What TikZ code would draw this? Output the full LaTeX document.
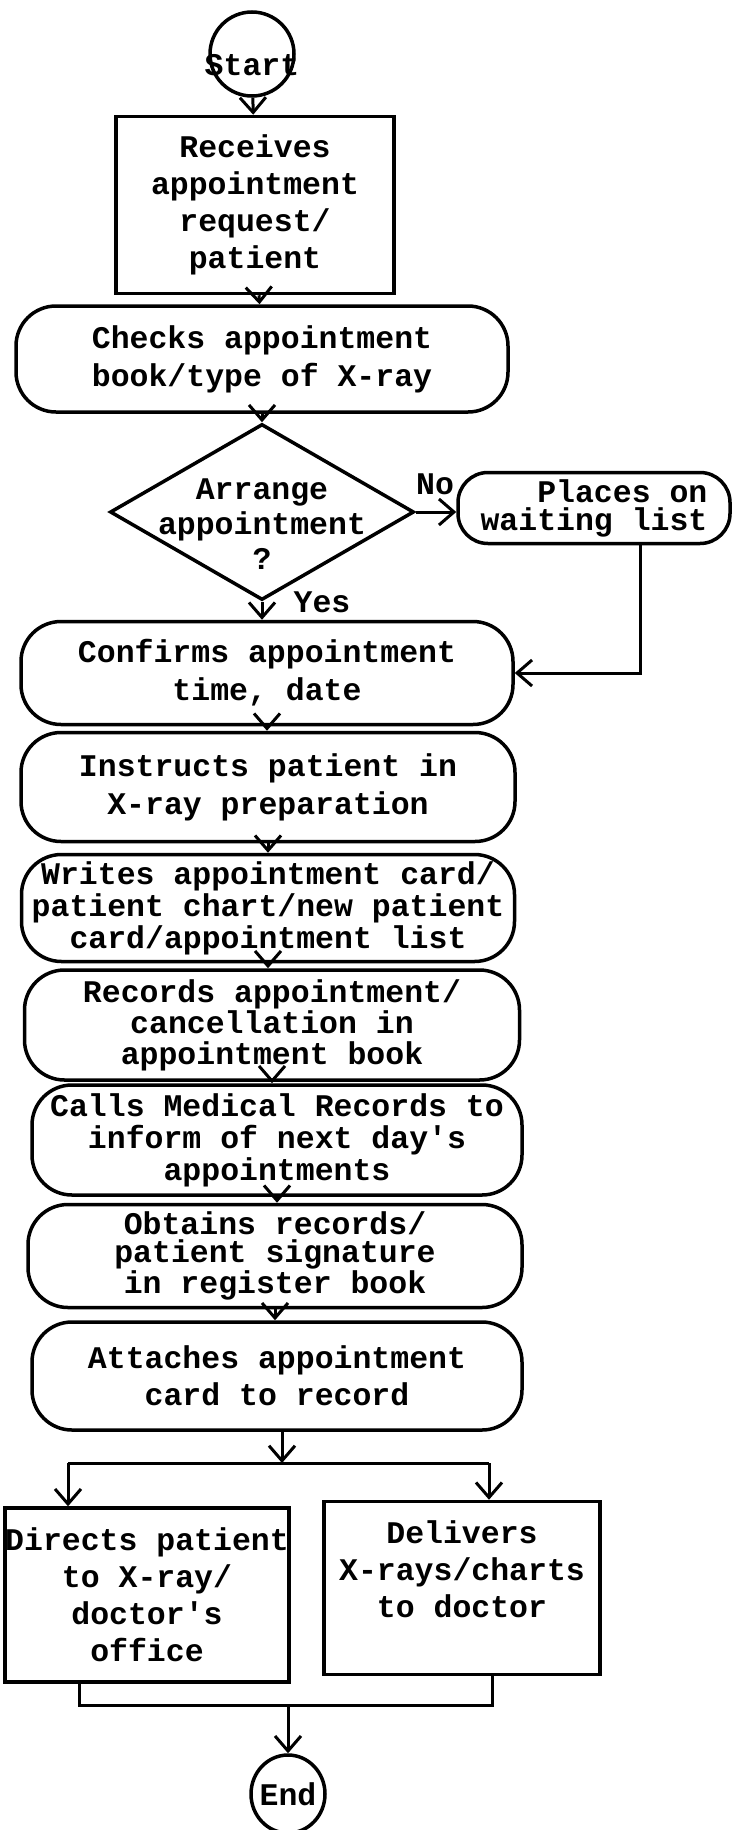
\documentclass[tikz,border=0pt]{standalone}
\usepackage{fontspec}
\newfontfamily\typew{Liberation Mono}
\usetikzlibrary{arrows.meta,shapes.geometric}
\begin{document}
\begin{tikzpicture}[x=1pt,y=-1pt,
  txt/.style={font=\typew\bfseries\fontsize{31.5}{#1}\selectfont},
  txt/.default=37,
  box/.style={draw, line width=3.5pt, rectangle, inner sep=0pt, align=center},
  pill/.style={box, rounded corners=40pt},
  term/.style={draw, line width=3.5pt, ellipse, inner sep=0pt},
  decision/.style={draw, line width=3.5pt, diamond, inner sep=0pt},
  flow/.style={line width=3pt},
  arr/.style={flow, -{Straight Barb[length=15pt,width=26pt]}},
]
\useasboundingbox (0,0) rectangle (732,1830);

% terminals and process steps
\node[term, txt, minimum width=84pt, minimum height=84pt] (start) at (252,54) {\raisebox{-22pt}[0pt][0pt]{\makebox[0pt]{Start}}};
\node[box, txt, minimum width=278pt, minimum height=177pt] (recv) at (255,205) {Receives\\appointment\\request/\\patient};
\node[pill, txt=38, minimum width=492pt, minimum height=106pt] (checks) at (262,359) {Checks appointment\\book/type of X-ray};
\node[decision, minimum width=304pt, minimum height=176pt] (dec) at (262,512) {};
\node[txt=35, align=center] (dectext) at (262,524) {Arrange\\appointment\\?};
\node[pill, txt=28, align=right, rounded corners=30pt, minimum width=272pt, minimum height=71pt] (places) at (594,508) {Places on\\waiting list};
\node[txt] (no) at (435,484) {No};
\node[txt] (yes) at (322,602) {Yes};
\node[pill, txt=38, minimum width=492pt, minimum height=103pt] (confirm) at (267,673) {Confirms appointment\\time, date};
\node[pill, txt=38, minimum width=494pt, minimum height=109pt] (instr) at (268,787) {Instructs patient in\\X-ray preparation};
\node[pill, txt=32, minimum width=493pt, minimum height=107pt] (writes) at (268,908) {Writes appointment card/\\patient chart/new patient\\card/appointment list};
\node[pill, txt=31, minimum width=495pt, minimum height=110pt] (records) at (272,1025) {Records appointment/\\cancellation in\\appointment book};
\node[pill, txt=32, minimum width=490pt, minimum height=110pt] (calls) at (277,1140) {Calls Medical Records to\\inform of next day's\\appointments};
\node[pill, txt=28, minimum width=494pt, minimum height=103pt] (obtains) at (275,1256) {Obtains records/\\patient signature\\in register book};
\node[pill, txt=37, minimum width=490pt, minimum height=108pt] (attach) at (277,1376) {Attaches appointment\\card to record};
\node[box, txt, minimum width=277pt, minimum height=174pt] (directs) at (147,1595) {Directs patient\\to X-ray/\\doctor's\\office};
\node[box, txt, minimum width=276pt, minimum height=173pt] (delivers) at (462,1588) {Delivers\\X-rays/charts\\to doctor\\\mbox{}};
\node[term, txt, minimum width=74pt, minimum height=78pt] (end) at (288,1794) {\makebox[0pt]{End}};

% branch and merge points
\coordinate (split) at (282,1463);
\coordinate (jl) at (68,1463);
\coordinate (jr) at (489,1463);
\coordinate (ml) at (79,1705);
\coordinate (mr) at (492,1705);
\coordinate (wl) at (640,1);

% connectors
\draw[arr] (start) -- (recv);
\draw[arr] (recv) -- (checks);
\draw[arr] (checks) -- (dec);
\draw[arr] (dec.east) -- (dec.east -| places.west);
\draw[arr] (dec.south) -- (confirm.north -| dec.south);
\draw[arr] (wl |- places.south) |- (confirm.east);
\draw[arr] (confirm.south) -- (instr.north -| confirm.south);
\draw[arr] (instr.south) -- (writes.north -| instr.south);
\draw[arr] (writes.south) -- (records.north -| writes.south);
\draw[arr] (records.south) -- (calls.north -| records.south);
\draw[arr] (calls.south) -- (obtains.north -| calls.south);
\draw[arr] (obtains.south) -- (attach.north -| obtains.south);
\draw[arr] (attach.south -| split) -- (split);
\draw[flow] (jl) -- (jr);
\draw[arr] (jl) -- (jl |- directs.north);
\draw[arr] (jr) -- (jr |- delivers.north);
\draw[flow] (ml |- directs.south) -- (ml) -- (mr) -- (mr |- delivers.south);
\draw[arr] (end.north |- ml) -- (end.north);
\end{tikzpicture}
\end{document}
